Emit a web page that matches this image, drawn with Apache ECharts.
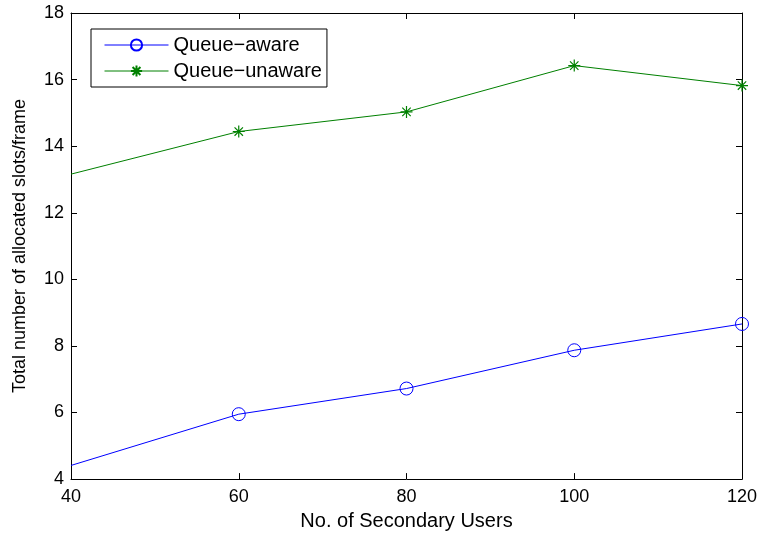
<!DOCTYPE html>
<html>
<head>
<meta charset="utf-8">
<script src="https://cdn.jsdelivr.net/npm/echarts@6/dist/echarts.min.js"></script>
<style>
  html, body { margin: 0; padding: 0; background: #fff; }
  #chart { width: 761px; height: 536px; }
</style>
</head>
<body>
<div id="chart"></div>
<script>
// Number of secondary users on the x axis
const users = [40, 60, 80, 100, 120];
// Total allocated slots per frame
const queueAware = [4.41, 5.95, 6.72, 7.87, 8.66];
const queueUnaware = [13.16, 14.44, 15.03, 16.42, 15.82];
const xTicks = [40, 60, 80, 100, 120];
const yTicks = [4, 6, 8, 10, 12, 14, 16, 18];

const FONT = 'Liberation Sans, Arial, Helvetica, sans-serif';
const asterisk = 'path://M0,-10L0,10M-10,0L10,0M-7,-7L7,7M-7,7L7,-7';

// The first point sits on the left frame edge and has no marker
function toPoints(values) {
  return users.map((u, i) => i === 0
    ? { value: [u, values[i]], symbol: 'none' }
    : { value: [u, values[i]] });
}

const chart = echarts.init(document.getElementById('chart'));
const boxAxisX = {
  type: 'value', min: xTicks[0], max: xTicks[xTicks.length - 1], interval: 20,
  axisLine: { show: true, onZero: false, lineStyle: { color: '#000', width: 1 } },
  axisTick: { show: true, inside: true, length: 6, lineStyle: { color: '#000' } },
  splitLine: { show: false }
};
const boxAxisY = {
  type: 'value', min: yTicks[0], max: yTicks[yTicks.length - 1], interval: 2,
  axisLine: { show: true, onZero: false, lineStyle: { color: '#000', width: 1 } },
  axisTick: { show: true, inside: true, length: 6, lineStyle: { color: '#000' } },
  splitLine: { show: false }
};

chart.setOption({
  animation: false,
  backgroundColor: '#fff',
  grid: { left: 71, right: 19, top: 13, bottom: 54, containLabel: false },
  xAxis: [
    Object.assign({}, boxAxisX, {
      position: 'bottom',
      name: 'No. of Secondary Users', nameLocation: 'middle', nameGap: 28,
      nameTextStyle: { fontFamily: FONT, fontSize: 20, color: '#000' },
      axisLabel: { fontFamily: FONT, fontSize: 18, color: '#000', margin: 9 }
    }),
    Object.assign({}, boxAxisX, { position: 'top', axisLabel: { show: false } })
  ],
  yAxis: [
    Object.assign({}, boxAxisY, {
      position: 'left',
      name: 'Total number of allocated slots/frame', nameLocation: 'middle', nameGap: 42,
      nameTextStyle: { fontFamily: FONT, fontSize: 18, color: '#000' },
      axisLabel: { fontFamily: FONT, fontSize: 18, color: '#000', margin: 7 }
    }),
    Object.assign({}, boxAxisY, { position: 'right', axisLabel: { show: false } })
  ],
  legend: {
    orient: 'vertical', left: 91, top: 29,
    padding: [6, 5, 6, 13], itemGap: 6,
    itemWidth: 64, itemHeight: 14,
    borderColor: '#000', borderWidth: 1, backgroundColor: '#fff',
    lineStyle: { width: 1 },
    textStyle: { fontFamily: FONT, fontSize: 20, lineHeight: 20, color: '#000' },
    data: ['Queue\u2212aware', 'Queue\u2212unaware']
  },
  series: [
    {
      name: 'Queue\u2212aware', type: 'line', xAxisIndex: 0, yAxisIndex: 0,
      data: toPoints(queueAware),
      symbol: 'circle', symbolSize: 13,
      lineStyle: { color: '#0000ff', width: 1 },
      itemStyle: { color: 'transparent', borderColor: '#0000ff', borderWidth: 1 }
    },
    {
      name: 'Queue\u2212unaware', type: 'line', xAxisIndex: 0, yAxisIndex: 0,
      data: toPoints(queueUnaware),
      symbol: asterisk, symbolSize: 12,
      lineStyle: { color: '#008000', width: 1 },
      itemStyle: { color: 'transparent', borderColor: '#008000', borderWidth: 1.2 }
    }
  ]
});
</script>
</body>
</html>
